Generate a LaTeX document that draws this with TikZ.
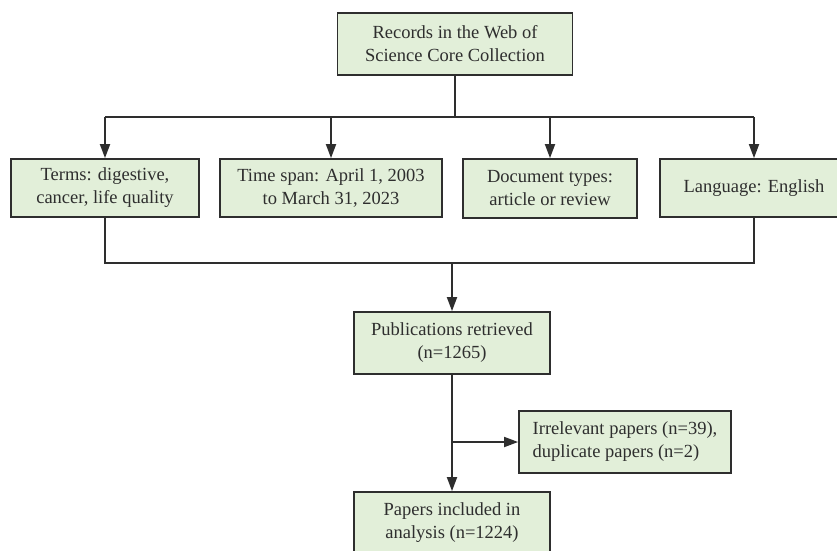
\documentclass[tikz,border=0pt]{standalone}
\usepackage{fontspec}
\setmainfont{Liberation Serif}
\usetikzlibrary{arrows.meta}
\definecolor{boxfill}{HTML}{E2EFD9}
\definecolor{boxline}{HTML}{2E2E2E}
\begin{document}
\begin{tikzpicture}[x=1pt,y=-1pt,
  flowbox/.style={draw=boxline, line width=1.8pt, fill=boxfill, text=boxline, align=center, inner sep=2pt, font=\fontsize{18.5}{23}\selectfont},
  link/.style={draw=boxline, line width=1.8pt},
  linkarrow/.style={link, -{Triangle[length=14pt,width=10pt]}}]
\clip (0,0) rectangle (837,550);
\fill[white] (0,0) rectangle (837,550);
\node[flowbox, minimum width=235pt, minimum height=62pt] (src) at (455,44) {Records in the Web of\\Science Core Collection};
\node[flowbox, minimum width=188pt, minimum height=58pt] (term) at (105,188) {Terms: digestive,\\cancer, life quality};
\node[flowbox, minimum width=222pt, minimum height=58pt] (span) at (331,188) {Time span: April 1, 2003\\to March 31, 2023};
\node[flowbox, minimum width=174pt, minimum height=59pt] (doctype) at (550,188.5) {Document types:\\article or review};
\node[flowbox, minimum width=188pt, minimum height=58pt] (lang) at (754,188) {Language: English};
\node[flowbox, minimum width=196pt, minimum height=62pt] (pub) at (452,343) {Publications retrieved\\(n=1265)};
\node[flowbox, minimum width=212pt, minimum height=62pt, align=left] (excl) at (625,442) {Irrelevant papers (n=39),\\duplicate papers (n=2)};
\node[flowbox, minimum width=196pt, minimum height=62pt] (incl) at (452,523) {Papers included in\\analysis (n=1224)};
\coordinate (fork) at (src.south |- 0,117);
\coordinate (merge) at (pub.north |- 0,263);
\coordinate (side) at (pub.south |- excl.west);
\draw[link] (src) -- (fork);
\draw[link] (term.north |- fork) -- (lang.north |- fork);
\foreach \n in {term,span,doctype,lang}
  \draw[linkarrow] (\n.north |- fork) -- (\n.north);
\draw[link] (term.south) |- (lang.south |- merge) -- (lang.south);
\draw[linkarrow] (merge) -- (pub);
\draw[linkarrow] (pub) -- (incl);
\draw[linkarrow] (side) -- (excl);
\end{tikzpicture}
\end{document}
